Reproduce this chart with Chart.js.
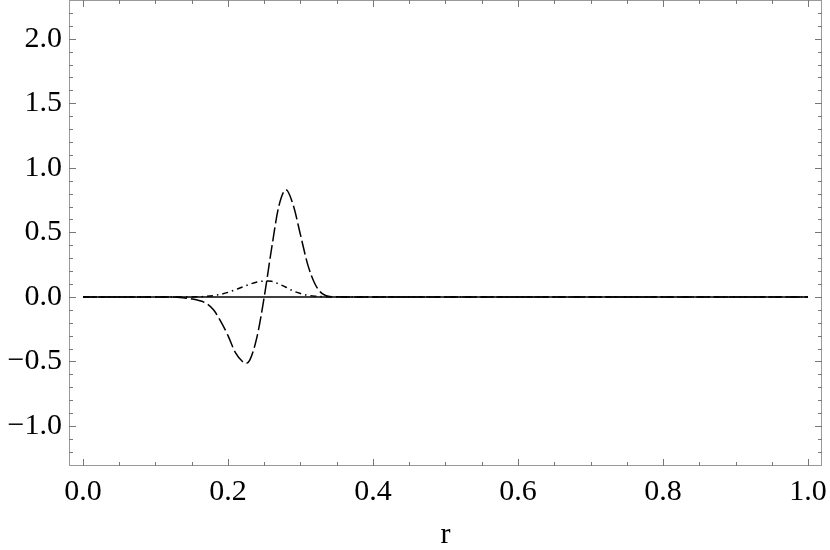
<!DOCTYPE html>
<html lang="en">
<head>
    <meta charset="UTF-8">
    <title>r plot</title>
    <script src="https://cdn.jsdelivr.net/npm/chart.js"></script>
    <style>
        html, body {
            margin: 0;
            padding: 0;
            background: #fff;
        }
        #wrap {
            width: 830px;
            height: 550px;
        }
        #probe {
            position: absolute;
            left: -1000px;
            font: 30px "Liberation Serif";
        }
    </style>
</head>
<body>
    <div id="wrap"><canvas id="plot"></canvas></div>
    <span id="probe">0.5 r</span>
    <script>
        // solid line (zero everywhere)
        const rSolid = [0, 1];
        const ySolid = [0, 0];

        // long dashed curve
        const rLong = [0, 0.10, 0.12, 0.13, 0.14, 0.15, 0.16, 0.17, 0.18, 0.19, 0.20, 0.21, 0.22, 0.225, 0.23, 0.24, 0.25,
                       0.26, 0.27, 0.28, 0.29, 0.30, 0.31, 0.32, 0.33, 0.34, 0.36, 1];
        const yLong = [0, 0, -0.001, -0.002, -0.008, -0.016, -0.028, -0.05, -0.1, -0.19, -0.3, -0.43, -0.5, -0.515, -0.49, -0.31, 0,
                       0.37, 0.7, 0.83, 0.71, 0.48, 0.25, 0.1, 0.025, 0.003, 0, 0];

        // dash-dot curve
        const rDot = [0, 0.15, 0.16, 0.17, 0.18, 0.19, 0.20, 0.21, 0.22, 0.23, 0.24, 0.25, 0.255, 0.26, 0.27, 0.28,
                      0.29, 0.30, 0.31, 0.32, 0.33, 0.35, 1];
        const yDot = [0, 0, 0.001, 0.004, 0.01, 0.02, 0.035, 0.055, 0.077, 0.098, 0.115, 0.123, 0.124, 0.122, 0.1, 0.075,
                      0.046, 0.026, 0.013, 0.006, 0.002, 0, 0];

        const xMajor = [0, 0.2, 0.4, 0.6, 0.8, 1.0];
        const yMajor = [-1.0, -0.5, 0.0, 0.5, 1.0, 1.5, 2.0];

        const pts = (xs, ys) => xs.map((x, i) => ({ x: x, y: ys[i] }));

        // frame with inward ticks, Mathematica style
        const framePlugin = {
            id: 'frame',
            afterDraw(chart) {
                const ctx = chart.ctx;
                const a = chart.chartArea;
                const xs = chart.scales.x;
                const ys = chart.scales.y;
                ctx.save();
                ctx.strokeStyle = '#999';
                ctx.lineWidth = 1;
                ctx.strokeRect(a.left + 0.5, a.top + 0.5, a.right - a.left - 1, a.bottom - a.top - 1);
                ctx.strokeStyle = '#777';
                for (let i = 0; i <= 20; i++) {
                    const v = i * 0.05;
                    const px = Math.round(xs.getPixelForValue(v)) + 0.5;
                    const len = (i % 4 === 0) ? 7 : 4;
                    ctx.beginPath();
                    ctx.moveTo(px, a.bottom);
                    ctx.lineTo(px, a.bottom - len);
                    ctx.moveTo(px, a.top);
                    ctx.lineTo(px, a.top + len);
                    ctx.stroke();
                }
                for (let i = -13; i <= 23; i++) {
                    const v = i / 10;
                    const py = Math.round(ys.getPixelForValue(v)) + 0.5;
                    if (py < a.top + 1 || py > a.bottom - 1) continue;
                    const len = (i % 5 === 0) ? 7 : 4;
                    ctx.beginPath();
                    ctx.moveTo(a.left, py);
                    ctx.lineTo(a.left + len, py);
                    ctx.moveTo(a.right, py);
                    ctx.lineTo(a.right - len, py);
                    ctx.stroke();
                }
                ctx.restore();
            }
        };

        const fmt = v => {
            const s = Math.abs(v).toFixed(1);
            return v < 0 ? '\u2212' + s : s;
        };

        // no label overflow padding: frame fills the canvas like the original
        const noPad = s => {
            s.paddingLeft = 0;
            s.paddingRight = 0;
            s.paddingTop = 0;
            s.paddingBottom = 0;
        };

        const font = { family: 'Liberation Serif, Times New Roman, serif', size: 30 };

        function draw() {
            new Chart(document.getElementById('plot'), {
                type: 'line',
                data: {
                    datasets: [{
                        data: pts(rSolid, ySolid),
                        borderColor: '#000',
                        borderWidth: 1.5
                    }, {
                        data: pts(rLong, yLong),
                        borderColor: '#000',
                        borderWidth: 1.5,
                        borderDash: [14, 4],
                        cubicInterpolationMode: 'monotone'
                    }, {
                        data: pts(rDot, yDot),
                        borderColor: '#000',
                        borderWidth: 1.5,
                        borderDash: [6, 4, 1.5, 4],
                        cubicInterpolationMode: 'monotone'
                    }]
                },
                options: {
                    responsive: true,
                    maintainAspectRatio: false,
                    animation: false,
                    layout: { padding: { top: 0, right: 8, left: 0, bottom: 0 } },
                    elements: { point: { radius: 0 } },
                    plugins: {
                        legend: { display: false },
                        tooltip: { enabled: false }
                    },
                    scales: {
                        x: {
                            type: 'linear',
                            min: -0.0193,
                            max: 1.0193,
                            grid: { display: false, drawTicks: false },
                            border: { display: false },
                            afterBuildTicks: s => { s.ticks = xMajor.map(v => ({ value: v })); },
                            afterFit: s => { s.height = 84; noPad(s); },
                            ticks: {
                                color: '#000',
                                font: font,
                                padding: 8,
                                maxRotation: 0,
                                callback: v => fmt(v)
                            },
                            title: {
                                display: true,
                                text: 'r',
                                color: '#000',
                                font: { family: font.family, size: 30, lineHeight: 1 },
                                padding: { top: 0, bottom: 0 }
                            }
                        },
                        y: {
                            type: 'linear',
                            min: -1.31,
                            max: 2.30,
                            grid: { display: false, drawTicks: false },
                            border: { display: false },
                            afterBuildTicks: s => { s.ticks = yMajor.map(v => ({ value: v })); },
                            afterFit: s => { s.width = 69; noPad(s); },
                            ticks: {
                                color: '#000',
                                font: font,
                                padding: 7,
                                callback: v => fmt(v)
                            }
                        }
                    }
                },
                plugins: [framePlugin]
            });
        }

        if (document.fonts && document.fonts.load) {
            document.fonts.load('30px "Liberation Serif"').then(draw, draw);
        } else {
            draw();
        }
    </script>
</body>
</html>
